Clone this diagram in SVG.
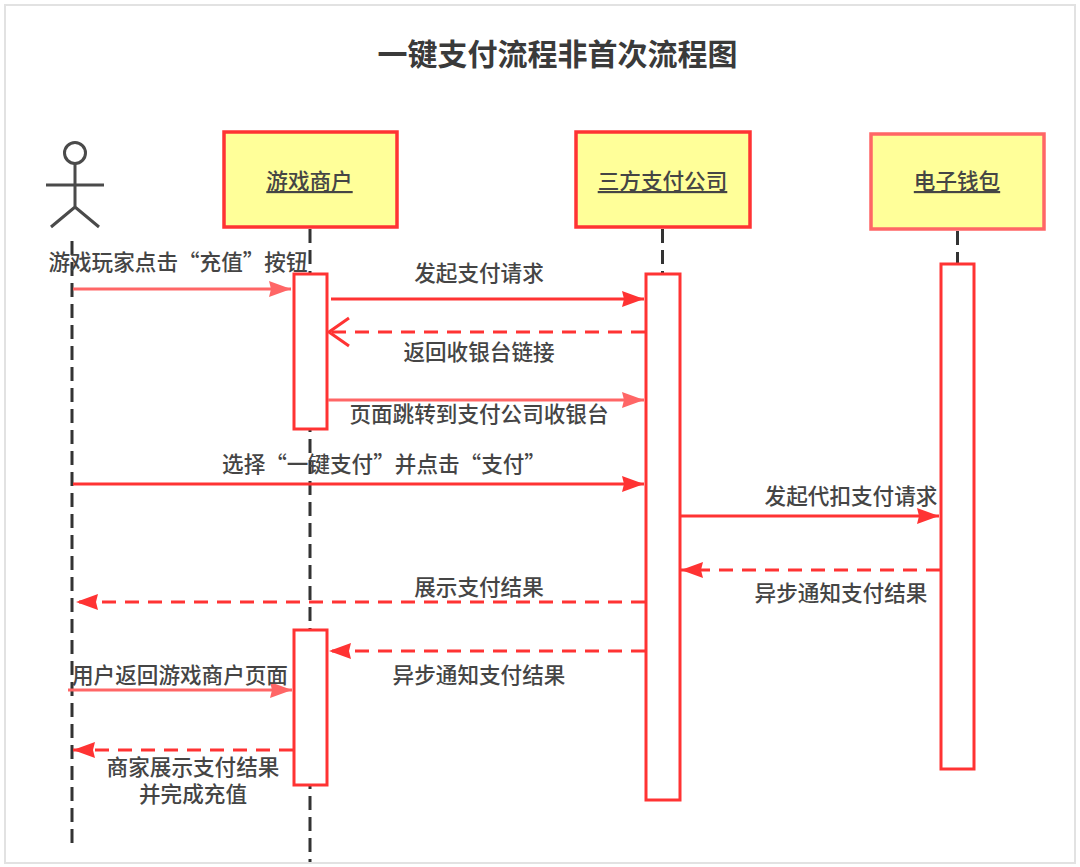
<svg xmlns="http://www.w3.org/2000/svg" width="1080" height="867" viewBox="0 0 1080 867">
<style>
text{font-family:"Noto Sans CJK SC","Liberation Sans",sans-serif;fill:#454545;font-size:21.6px;text-anchor:middle;font-weight:500}
.t{font-size:30px;font-weight:700;fill:#3a3a3a}
.u{text-decoration:underline}
.life{fill:none;stroke:#333;stroke-width:3;stroke-dasharray:14 7}
.box{fill:#ffff99;stroke:#ff3333;stroke-width:3.5}
.act{fill:#fff;stroke:#ff3333;stroke-width:3}
.m{fill:none;stroke:#ff3333;stroke-width:3}
.l{stroke:#ff6666}
.d{stroke-dasharray:14 9}
.s{fill:none;stroke:#4a4a4a;stroke-width:3}
</style>
<defs>
<marker id="a" markerUnits="userSpaceOnUse" markerWidth="24" markerHeight="18" refX="22" refY="8" orient="auto"><path d="M0 0L22 8L0 16L2 8Z" fill="#ff3333"/></marker>
<marker id="al" markerUnits="userSpaceOnUse" markerWidth="24" markerHeight="18" refX="22" refY="8" orient="auto"><path d="M0 0L22 8L0 16L2 8Z" fill="#ff6666"/></marker>
<marker id="o" markerUnits="userSpaceOnUse" markerWidth="24" markerHeight="32" refX="22" refY="16" orient="auto"><path d="M2 2L22 16L2 30" fill="none" stroke="#ff3333" stroke-width="3"/></marker>
</defs>
<rect x="0" y="0" width="1080" height="867" fill="#fff"/>
<rect x="5" y="5" width="1070" height="858" fill="#fff" stroke="#e2e2e2" stroke-width="2"/>
<text class="t" x="557.500" y="65">一键支付流程非首次流程图</text>
<g id="lifelines">
<path class="life" d="M72 241V848"/>
<path class="life" d="M310 229V862"/>
<path class="life" d="M662.500 229V274"/>
<path class="life" d="M957.500 231V264"/>
</g>
<g id="actor">
<circle class="s" cx="75" cy="153" r="10.500"/>
<path class="s" d="M75 164V207M46 185H104M51 227L75 207L99 227"/>
</g>
<g id="merchant"><rect class="box" x="224" y="132" width="173" height="95"/><text class="u" x="309.500" y="189">游戏商户</text></g>
<g id="payco"><rect class="box" x="576" y="132" width="174" height="95"/><text class="u" x="662.500" y="189">三方支付公司</text></g>
<g id="wallet"><rect class="box" x="871" y="134" width="173" height="95" style="stroke:#ff6666"/><text class="u" x="957" y="189">电子钱包</text></g>
<g id="activations">
<rect class="act" x="294" y="274" width="33" height="155"/>
<rect class="act" x="646" y="274" width="34" height="526"/>
<rect class="act" x="941" y="264" width="33" height="505"/>
<rect class="act" x="294" y="630" width="33" height="155"/>
</g>
<g id="connectors">
<path class="m l" marker-end="url(#al)" d="M73 289H291"/>
<path class="m" marker-end="url(#a)" d="M331 299H644"/>
<path class="m d" marker-end="url(#o)" d="M645 332H329"/>
<path class="m l" marker-end="url(#al)" d="M328 400H644"/>
<path class="m" marker-end="url(#a)" d="M73 484H644"/>
<path class="m" marker-end="url(#a)" d="M681 516H939"/>
<path class="m d" marker-end="url(#a)" d="M940 570H681"/>
<path class="m d" marker-end="url(#a)" d="M645 602H76"/>
<path class="m d" marker-end="url(#a)" d="M645 651H329"/>
<path class="m l" marker-end="url(#al)" d="M68 690H292"/>
<path class="m d" marker-end="url(#a)" d="M293 750H73"/>
</g>
<g id="labels">
<text x="178" y="270">游戏玩家点击“充值”按钮</text>
<text x="479" y="281">发起支付请求</text>
<text x="479" y="360">返回收银台链接</text>
<text x="479" y="422">页面跳转到支付公司收银台</text>
<text x="384" y="472">选择“一键支付”并点击“支付”</text>
<text x="851" y="504">发起代扣支付请求</text>
<text x="841" y="601">异步通知支付结果</text>
<text x="479" y="595">展示支付结果</text>
<text x="479" y="683">异步通知支付结果</text>
<text x="180" y="683">用户返回游戏商户页面</text>
<text x="193" y="775">商家展示支付结果<tspan x="193" dy="27">并完成充值</tspan></text>
</g>
</svg>
